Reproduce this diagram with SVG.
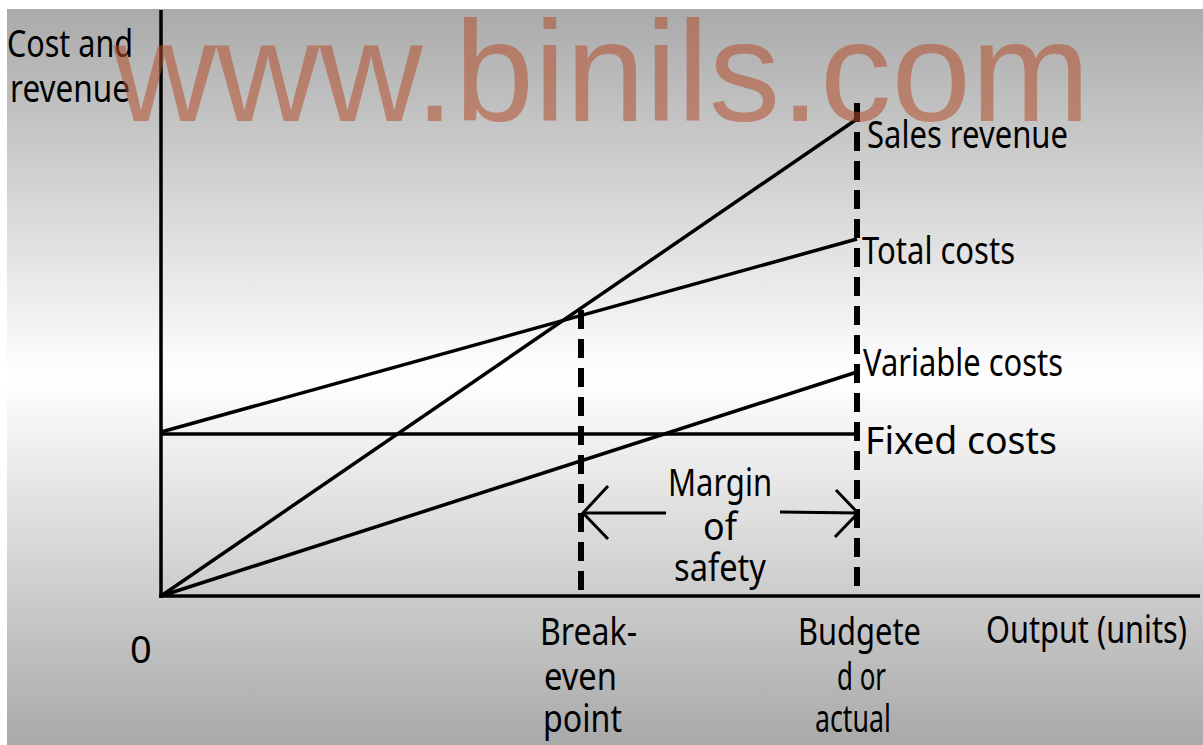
<svg xmlns="http://www.w3.org/2000/svg" width="1203" height="745" viewBox="0 0 1203 745">
<defs>
<linearGradient id="bg" x1="0" y1="9" x2="0" y2="745" gradientUnits="userSpaceOnUse">
<stop offset="0" stop-color="#aaaaaa"/>
<stop offset="0.5" stop-color="#ffffff"/>
<stop offset="1" stop-color="#a9a9a9"/>
</linearGradient>
<style>
.ln{stroke:#000;stroke-width:3.5;fill:none;stroke-linecap:butt}
.dash{stroke:#000;stroke-width:6;fill:none;stroke-dasharray:19 10}
.ar{stroke:#000;stroke-width:3;fill:none}
.t{font-family:"Noto Sans","Open Sans","Liberation Sans",sans-serif;font-size:38px;fill:#000}
.wm{font-family:"Liberation Sans",Arial,sans-serif;font-size:142px;fill:#b4502e;opacity:0.55}
</style>
</defs>
<rect x="0" y="0" width="1203" height="745" fill="#ffffff"/>
<rect x="7" y="9" width="1196" height="736" fill="url(#bg)"/>
<g id="connectors">
<line class="ln" x1="161" y1="10" x2="161" y2="598"/>
<line class="ln" x1="159" y1="596" x2="1200" y2="596"/>
<line class="ln" x1="161" y1="434" x2="857" y2="434"/>
<line class="ln" x1="161" y1="432" x2="857" y2="239"/>
<line class="ln" x1="161" y1="596" x2="857" y2="119"/>
<line class="ln" x1="161" y1="596" x2="857" y2="372"/>
<line class="dash" x1="581" y1="310" x2="581" y2="596"/>
<line class="dash" x1="857" y1="103" x2="857" y2="596"/>
<line class="ar" x1="583" y1="513" x2="666" y2="513"/>
<polyline class="ar" points="608,486 583,513 608,539"/>
<line class="ar" x1="780" y1="512" x2="858" y2="513"/>
<polyline class="ar" points="836,490 858,513 835,537"/>
</g>
<g id="axis-y-label">
<text class="t" x="7" y="57" textLength="126" lengthAdjust="spacingAndGlyphs">Cost and</text>
<text class="t" x="10" y="102" textLength="120" lengthAdjust="spacingAndGlyphs">revenue</text>
</g>
<g id="origin"><text class="t" x="130" y="663">0</text></g>
<g id="sales-revenue"><text class="t" x="867" y="148" textLength="201" lengthAdjust="spacingAndGlyphs">Sales revenue</text></g>
<g id="total-costs"><text class="t" x="862" y="264" textLength="153" lengthAdjust="spacingAndGlyphs">Total costs</text></g>
<g id="variable-costs"><text class="t" x="863" y="376" textLength="200" lengthAdjust="spacingAndGlyphs">Variable costs</text></g>
<g id="fixed-costs"><text class="t" x="865" y="454" textLength="192" lengthAdjust="spacingAndGlyphs">Fixed costs</text></g>
<g id="margin-of-safety">
<text class="t" x="668" y="496" textLength="104" lengthAdjust="spacingAndGlyphs">Margin</text>
<text class="t" x="703" y="540" textLength="34" lengthAdjust="spacingAndGlyphs">of</text>
<text class="t" x="674" y="581" textLength="92" lengthAdjust="spacingAndGlyphs">safety</text>
</g>
<g id="break-even">
<text class="t" x="540" y="645" textLength="97" lengthAdjust="spacingAndGlyphs">Break-</text>
<text class="t" x="544" y="690" textLength="73" lengthAdjust="spacingAndGlyphs">even</text>
<text class="t" x="543" y="732" textLength="79" lengthAdjust="spacingAndGlyphs">point</text>
</g>
<g id="budgeted">
<text class="t" x="798" y="645" textLength="123" lengthAdjust="spacingAndGlyphs">Budgete</text>
<text class="t" x="837" y="690" textLength="49" lengthAdjust="spacingAndGlyphs">d or</text>
<text class="t" x="815" y="732" textLength="76" lengthAdjust="spacingAndGlyphs">actual</text>
</g>
<g id="output-label"><text class="t" x="986" y="643" textLength="201" lengthAdjust="spacingAndGlyphs">Output (units)</text></g>
<g id="watermark"><text class="wm" x="113" y="121" textLength="977" lengthAdjust="spacingAndGlyphs">www.binils.com</text></g>
</svg>
